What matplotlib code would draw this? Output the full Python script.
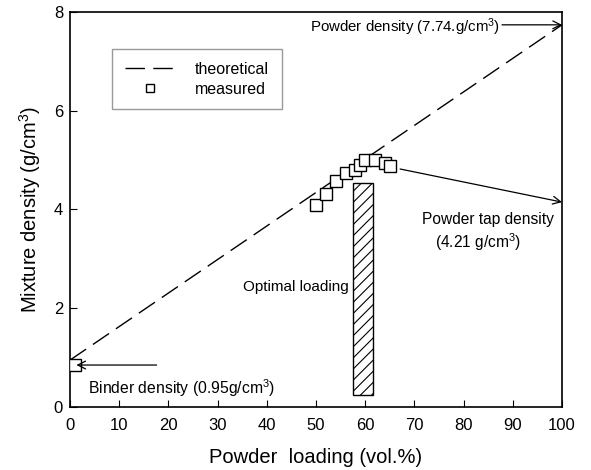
import matplotlib
matplotlib.use("Agg")
import matplotlib.pyplot as plt
from matplotlib.patches import Rectangle

plt.rcParams['font.family'] = ['Liberation Sans', 'DejaVu Sans']
plt.rcParams['mathtext.fontset'] = 'custom'
plt.rcParams['mathtext.rm'] = 'Liberation Sans'
plt.rcParams['mathtext.it'] = 'Liberation Sans:italic'
plt.rcParams['hatch.linewidth'] = 0.8

# data
theory_x = [0, 100]
theory_y = [0.95, 7.74]
meas_x = [1.0, 50.0, 52.0, 54.1, 56.1, 57.9, 58.9, 60.0, 61.9, 64.0, 65.0]
meas_y = [0.85, 4.09, 4.31, 4.57, 4.74, 4.81, 4.90, 5.00, 5.01, 4.95, 4.88]
opt_x0, opt_x1 = 57.6, 61.6
opt_y0, opt_y1 = 0.24, 4.54
xticks = list(range(0, 101, 10))
yticks = [0, 2, 4, 6, 8]

fig = plt.figure(figsize=(5.91, 4.70), dpi=100)
ax = fig.add_axes([70/591, 1-407/470, (562-70)/591, (407-12)/470])

ax.plot(theory_x, theory_y, color='black', lw=1.0, dashes=(14, 6), label='theoretical')
ax.plot(meas_x, meas_y, linestyle='none', marker='s', ms=8.5, mfc='white', mec='black',
        mew=1.0, label='measured', zorder=3)

ax.add_patch(Rectangle((opt_x0, opt_y0), opt_x1 - opt_x0, opt_y1 - opt_y0,
                       facecolor='white', edgecolor='black', lw=1.0, hatch='///'))

ax.set_xlim(0, 100)
ax.set_ylim(0, 8)
ax.set_xticks(xticks)
ax.set_yticks(yticks)
ax.tick_params(axis='x', direction='in', length=5, labelsize=12, pad=8)
ax.tick_params(axis='y', direction='in', length=5, labelsize=12, pad=5)
for s in ax.spines.values():
    s.set_linewidth(1.2)

ax.set_xlabel('Powder  loading (vol.%)', fontsize=14.5, labelpad=11)
ax.set_ylabel('Mixture density (g/cm$^3$)', fontsize=14.5, labelpad=8)

arrow = dict(arrowstyle='->', lw=0.9, color='black', shrinkA=0, shrinkB=0,
             mutation_scale=14)
ax.annotate('', xy=(100, 7.74), xytext=(87.8, 7.74), arrowprops=arrow)
ax.text(48.8, 7.69, 'Powder density (7.74.g/cm$^3$)', fontsize=10.8, ha='left', va='center')

ax.annotate('', xy=(100, 4.15), xytext=(67.1, 4.82), arrowprops=arrow)
ax.text(71.5, 3.79, 'Powder tap density', fontsize=11.2, ha='left', va='center')
ax.text(74.2, 3.34, '(4.21 g/cm$^3$)', fontsize=11.2, ha='left', va='center')

ax.annotate('', xy=(1.3, 0.85), xytext=(17.6, 0.85), arrowprops=arrow)
ax.text(3.7, 0.38, 'Binder density (0.95g/cm$^3$)', fontsize=11.3, ha='left', va='center')

ax.text(56.6, 2.43, 'Optimal loading', fontsize=11, ha='right', va='center')

leg = ax.legend(loc='upper left', bbox_to_anchor=((112-70)/492, (407-49)/395),
                fontsize=11.5, frameon=True, fancybox=False, edgecolor='gray',
                handlelength=3.1, borderpad=0.8, handletextpad=1.3, labelspacing=0.3,
                borderaxespad=0, markerscale=0.65)
leg.get_frame().set_linewidth(1.0)

fig.savefig('out.png', dpi=100)
